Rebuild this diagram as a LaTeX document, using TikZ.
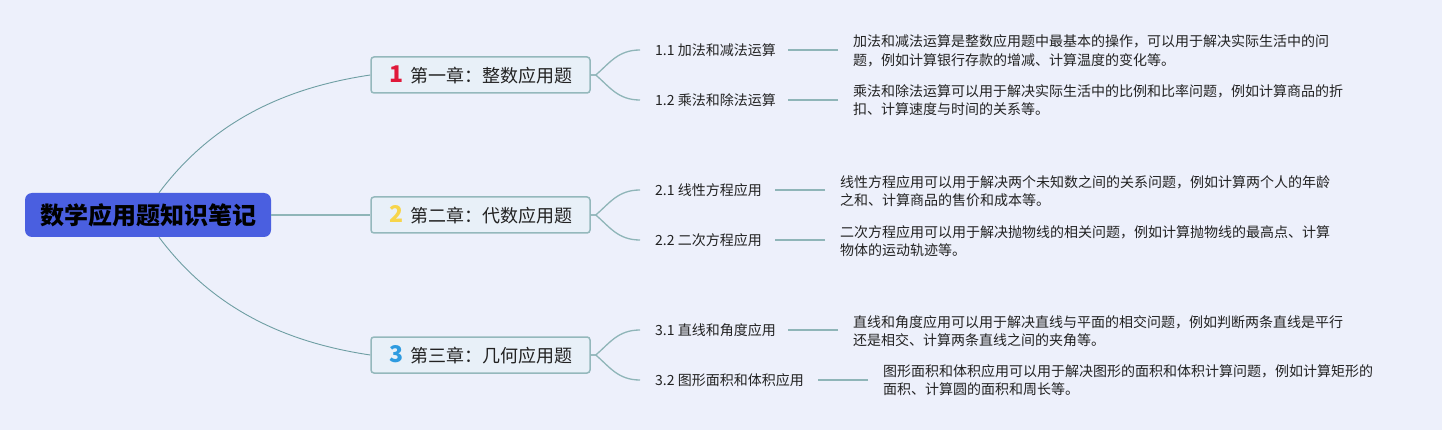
\documentclass[tikz,border=0pt]{standalone}
\usepackage{fontspec}
\setmainfont{Noto Sans CJK SC}
\usetikzlibrary{calc}
\definecolor{bg}{HTML}{EDF0FB}
\definecolor{rootblue}{HTML}{4A5FE0}
\definecolor{chfill}{HTML}{E8F0F8}
\definecolor{chborder}{HTML}{94B8BC}
\definecolor{linec}{HTML}{8FB5B8}
\definecolor{rootline}{HTML}{6E9EA3}
\definecolor{txt}{HTML}{222222}
\definecolor{numred}{HTML}{E0193A}
\definecolor{numyellow}{HTML}{F7D54A}
\definecolor{numblue}{HTML}{2E9BE0}
\tikzset{
  rootnode/.style={draw=none, fill=rootblue, rounded corners=7pt, minimum width=246pt, minimum height=44pt, inner sep=0pt, font=\fontsize{24}{24}\selectfont\bfseries, text=black},
  chapnode/.style={draw=chborder, line width=1.5pt, fill=chfill, rounded corners=3pt, minimum width=219pt, minimum height=36pt, inner sep=0pt, font=\fontsize{18}{18}\selectfont, text=txt},
  subnode/.style={anchor=west, inner sep=0pt, font=\fontsize{14}{14}\selectfont, text=txt},
  descnode/.style={anchor=west, inner sep=0pt, align=left, font=\fontsize{14}{18.5}\selectfont, text=txt},
  rootlink/.style={draw=rootline, line width=0.9pt},
  branch/.style={draw=linec, line width=1.3pt},
  leaf/.style={draw=linec, line width=1.5pt}
}
\begin{document}
\begin{tikzpicture}[x=1pt,y=-1pt]
\useasboundingbox (0,0) rectangle (1442,430);
\fill[bg] (0,0) rectangle (1442,430);

\node[rootnode] (root) at (148,215) {数学应用题知识笔记};

\node[chapnode] (ch1) at (480.5,75) {\textcolor{numred}{\fontsize{23}{23}\selectfont\bfseries 1}\hspace{7pt}第一章：整数应用题};
\node[chapnode] (ch2) at (480.5,215) {\textcolor{numyellow}{\fontsize{23}{23}\selectfont\bfseries 2}\hspace{7pt}第二章：代数应用题};
\node[chapnode] (ch3) at (480.5,355) {\textcolor{numblue}{\fontsize{23}{23}\selectfont\bfseries 3}\hspace{7pt}第三章：几何应用题};

\draw[rootlink] ([xshift=11pt]root.north) .. controls (215,118) and (290,87) .. (ch1.west);
\draw[branch] (root.east) -- (ch2.west);
\draw[rootlink] ([xshift=11pt]root.south) .. controls (215,312) and (290,343) .. (ch3.west);

\node[subnode] (s11) at (655,50) {1.1 加法和减法运算};
\node[subnode] (s12) at (655,100) {1.2 乘法和除法运算};
\node[subnode] (s21) at (655,190) {2.1 线性方程应用};
\node[subnode] (s22) at (655,240) {2.2 二次方程应用};
\node[subnode] (s31) at (655,330) {3.1 直线和角度应用};
\node[subnode] (s32) at (655,380) {3.2 图形面积和体积应用};

\foreach \c/\a/\b in {ch1/s11/s12, ch2/s21/s22, ch3/s31/s32}{
  \draw[branch] (\c.east) -- ++(5,0) .. controls +(14,-12) and +(-22,0) .. ([xshift=-15pt]\a.west);
  \draw[branch] (\c.east) -- ++(5,0) .. controls +(14,12) and +(-22,0) .. ([xshift=-15pt]\b.west);
}

\node[descnode] (d11) at (853,51) {加法和减法运算是整数应用题中最基本的操作，可以用于解决实际生活中的问\\题，例如计算银行存款的增减、计算温度的变化等。};
\node[descnode] (d12) at (853,100) {乘法和除法运算可以用于解决实际生活中的比例和比率问题，例如计算商品的折\\扣、计算速度与时间的关系等。};
\node[descnode] (d21) at (840,191) {线性方程应用可以用于解决两个未知数之间的关系问题，例如计算两个人的年龄\\之和、计算商品的售价和成本等。};
\node[descnode] (d22) at (840,241) {二次方程应用可以用于解决抛物线的相关问题，例如计算抛物线的最高点、计算\\物体的运动轨迹等。};
\node[descnode] (d31) at (853,331) {直线和角度应用可以用于解决直线与平面的相交问题，例如判断两条直线是平行\\还是相交、计算两条直线之间的夹角等。};
\node[descnode] (d32) at (883,380) {图形面积和体积应用可以用于解决图形的面积和体积计算问题，例如计算矩形的\\面积、计算圆的面积和周长等。};

\foreach \s/\d in {s11/d11, s12/d12, s21/d21, s22/d22, s31/d31, s32/d32}{
  \draw[leaf] ($(\d.west |- \s.west)+(-15,0)$) -- ++(-50,0);
}
\end{tikzpicture}
\end{document}
